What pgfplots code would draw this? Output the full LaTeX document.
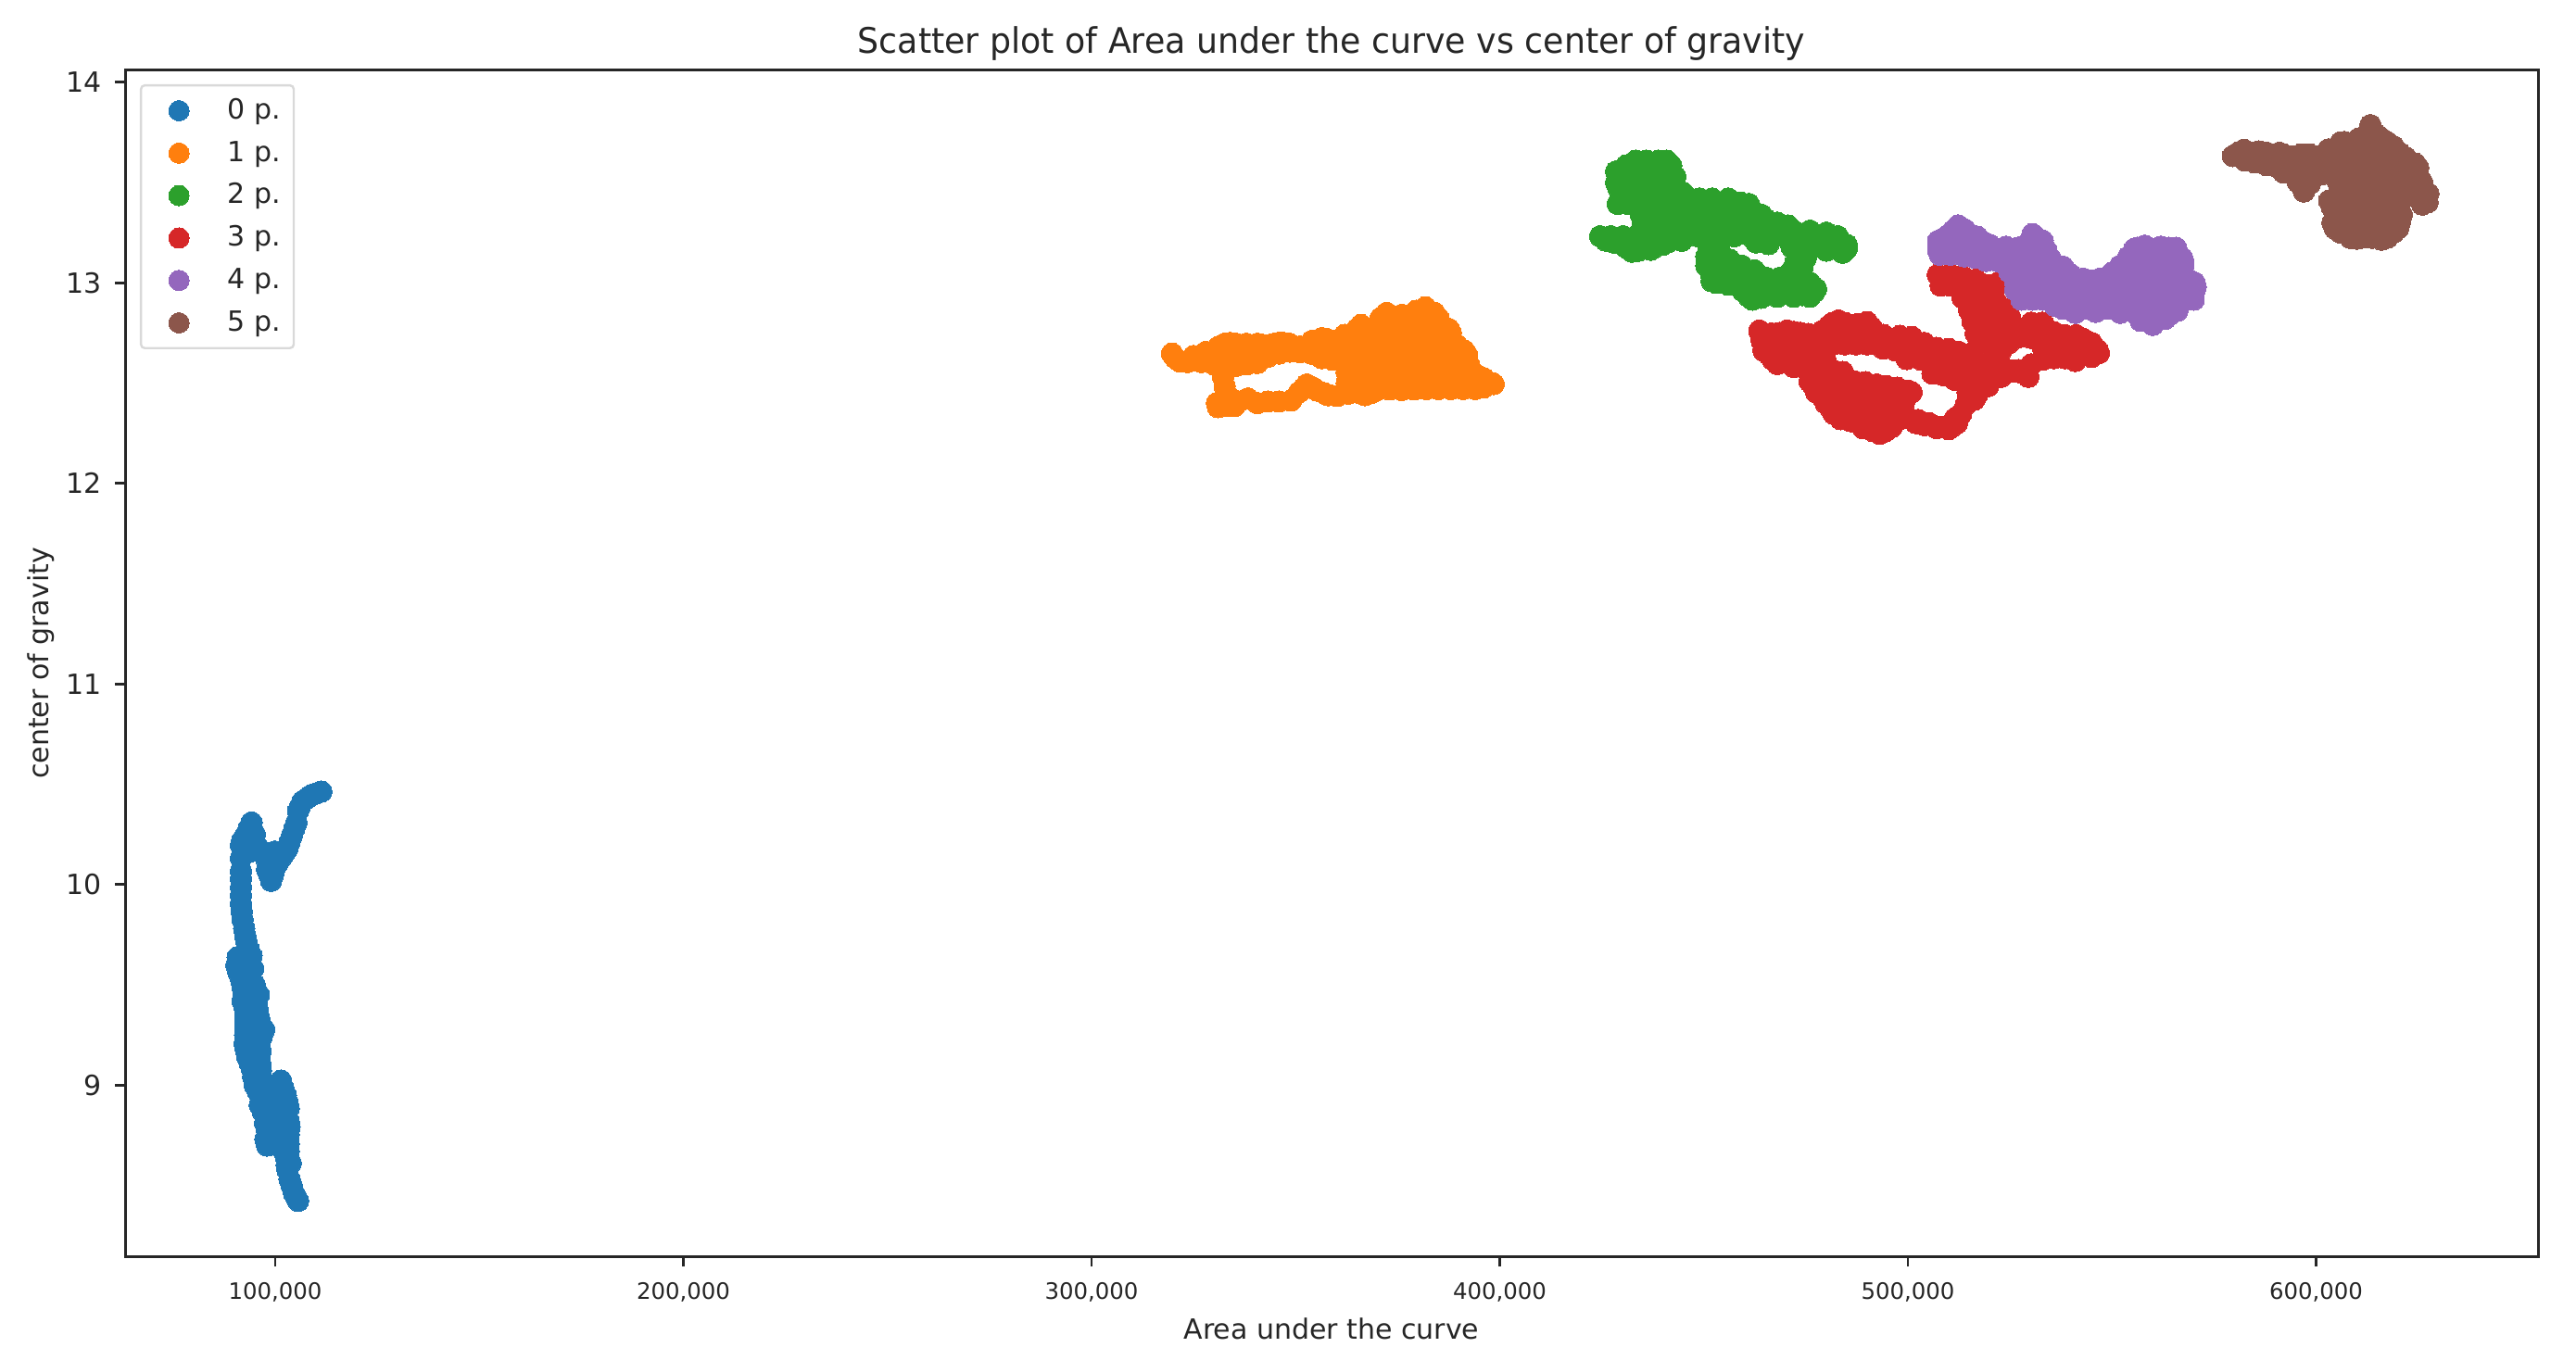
\documentclass[border=0pt]{standalone}
\usepackage{fontspec}
\setmainfont{DejaVu Sans}
\usepackage{pgfplots}
\pgfplotsset{compat=1.18}
\definecolor{c0}{HTML}{1F77B4}
\definecolor{c1}{HTML}{FF7F0E}
\definecolor{c2}{HTML}{2CA02C}
\definecolor{c3}{HTML}{D62728}
\definecolor{c4}{HTML}{9467BD}
\definecolor{c5}{HTML}{8C564B}
\definecolor{ink}{HTML}{262626}
\pgfplotsset{dot/.style={only marks,mark=*,mark size=2.9pt,color=#1,mark options={draw=#1,fill=#1,line width=0pt}}}
\begin{document}
\begin{tikzpicture}
\useasboundingbox (-33.75pt,-27.75pt) rectangle (661.25pt,339pt);
\begin{axis}[
  at={(0pt,0pt)},anchor=south west,
  scale only axis,width=651pt,height=320pt,
  xmin=63220,xmax=654370,ymin=8.146,ymax=14.059,
  axis line style={ink,line width=0.75pt},
  tick style={ink,line width=0.7pt},
  major tick length=2.75pt,
  tick align=outside,xtick pos=lower,ytick pos=left,
  xtick={100000,200000,300000,400000,500000,600000},
  ytick={9,10,11,12,13,14},
  scaled x ticks=false,
  /pgf/number format/assume math mode=true,
  xticklabel style={/pgf/number format/.cd,fixed,1000 sep={,},/tikz/.cd,font=\fontsize{6.1}{7}\selectfont,text=ink,anchor=base,yshift=-8.9pt},
  yticklabel style={/pgf/number format/.cd,fixed,precision=0,/tikz/.cd,font=\fontsize{7.5}{9}\selectfont,text=ink},
  title={\scalebox{0.956}[1]{Scatter plot of Area under the curve vs center of gravity}},
  every axis title/.style={at={(axis description cs:0.5,1)},anchor=base,yshift=4.5pt,font=\fontsize{9.5}{11}\selectfont,text=ink},
  xlabel={Area under the curve},
  every axis x label/.style={at={(axis description cs:0.5,0)},anchor=base,yshift=-22.25pt,font=\fontsize{7.5}{9}\selectfont,text=ink},
  ylabel={center of gravity},
  every axis y label/.style={at={(axis description cs:0,0.5)},rotate=90,anchor=base,yshift=20.5pt,font=\fontsize{7.5}{9}\selectfont,text=ink},
  legend cell align=left,
  legend image code/.code={\path[draw=none,fill=none] (-8.8pt,0pt) -- (11.2pt,0pt);\path[draw=none,fill=none,#1,mark size=2.75pt] plot coordinates {(0pt,0pt)};},
  legend style={at={(axis description cs:0.00614,0.9883)},anchor=north west,draw=black!15,line width=0.6pt,rounded corners=1pt,font=\fontsize{7.5}{9}\selectfont,text=ink,inner xsep=1.45pt,inner ysep=1.1pt,row sep=0pt,nodes={text height=7.95pt,text depth=3.5pt,inner ysep=0pt}},
]
\addplot[dot=c0] coordinates {
(111300,10.463)(109000,10.447)(106700,10.415)(105600,10.366)(105200,10.309)(104100,10.245)(103000,10.180)(101400,10.131)(99900,10.083)(99000,10.018)(98000,10.075)(97700,10.131)(99900,10.164)(96900,10.164)(95400,10.196)(94200,10.309)(92700,10.245)(94600,10.245)(91600,10.196)(93900,10.164)(91600,10.131)(91600,10.066)(91600,9.985)(91600,9.905)(92000,9.824)(92700,9.742)(93500,9.678)(90800,9.637)(90500,9.597)(94200,9.645)(92000,9.548)(94600,9.580)(92200,9.467)(95000,9.499)(95400,9.419)(92000,9.419)(92700,9.354)(95800,9.354)(92700,9.289)(97300,9.276)(95400,9.289)(92500,9.208)(96100,9.208)(93100,9.143)(96100,9.135)(94300,9.078)(96500,9.070)(95000,8.997)(96500,9.005)(101400,9.022)(102600,8.949)(96500,8.933)(103300,8.884)(96900,8.868)(99900,8.852)(103300,8.819)(98000,8.770)(101100,8.770)(103300,8.754)(98000,8.698)(100700,8.698)(103300,8.706)(102600,8.641)(103000,8.576)(104100,8.495)(105200,8.438)(105600,8.422)
(91600,10.03)(91600,9.945)(91800,9.865)(92400,9.78)(93000,9.71)(103500,8.53)(103800,8.61)(99000,8.96)(100500,9.0)(100000,8.92)(97800,8.84)(101000,8.82)
(91200,9.60)(91700,9.52)(92000,9.49)(92300,9.44)(92500,9.385)(92700,9.32)(92600,9.25)(92800,9.175)(93700,9.11)(94600,9.04)(95800,8.965)(96200,8.90)(97500,8.81)(97600,8.73)(96000,9.45)(95200,9.46)(95600,9.385)(96200,9.32)(96700,9.24)(96400,9.17)(96400,9.10)(101000,8.98)(102000,8.985)(103000,8.915)(103500,8.79)(103300,8.67)(102800,8.60)(104600,8.46)(92500,9.66)(91500,9.62)(91000,9.56)(93000,9.60)(93500,9.53)(93500,9.46)(94000,9.40)(94000,9.32)(94000,9.24)(95000,9.15)(95500,9.03)(98500,8.90)(100000,8.78)(101500,8.72)
(110200,10.455)(107800,10.43)(106100,10.39)(104700,10.28)(103500,10.21)(102200,10.155)(100600,10.105)(99500,10.05)(98500,10.05)(98800,10.14)(101000,10.15)(95000,10.25)(93500,10.28)(91900,10.22)
};
\addlegendentry{0 p.}
\addplot[dot=c1] coordinates {
(319700,12.647)(321600,12.608)(323500,12.605)(326900,12.639)(326900,12.605)(330000,12.647)(330000,12.593)(332600,12.696)(332600,12.647)(332600,12.585)(335300,12.696)(335300,12.639)(335300,12.585)(337900,12.696)(337900,12.639)(337900,12.593)(340600,12.696)(340600,12.639)(340600,12.600)(343200,12.673)(343200,12.631)(345900,12.701)(345900,12.647)(348500,12.696)(348500,12.657)(351100,12.682)(351100,12.654)(353800,12.701)(353800,12.647)(356400,12.724)(356400,12.670)(356400,12.624)(359100,12.711)(359100,12.662)(359100,12.616)
(332200,12.531)(332600,12.485)(330700,12.400)(333400,12.385)(336000,12.408)(338300,12.423)(340600,12.400)(343200,12.408)(345900,12.408)(348900,12.413)(350800,12.454)(352700,12.493)(355300,12.462)(358000,12.439)(360200,12.436)(362900,12.447)(365500,12.451)(368600,12.451)(369700,12.477)(333700,12.431)
(381800,12.878)
(370800,12.824)(373800,12.824)(376900,12.824)(379900,12.824)(382900,12.824)(385000,12.824)
(365000,12.770)(367800,12.770)(370800,12.770)(373800,12.770)(376900,12.770)(379900,12.770)(382900,12.770)(386000,12.770)(387500,12.770)
(362500,12.716)(364800,12.716)(367800,12.716)(370800,12.716)(373800,12.716)(376900,12.716)(379900,12.716)(382900,12.716)(386000,12.716)(388200,12.716)
(362500,12.662)(364800,12.662)(367800,12.662)(370800,12.662)(373800,12.662)(376900,12.662)(379900,12.662)(382900,12.662)(386000,12.662)(388200,12.662)(391300,12.662)
(362500,12.608)(364800,12.608)(367800,12.608)(370800,12.608)(373800,12.608)(376900,12.608)(379900,12.608)(382900,12.608)(386000,12.608)(388200,12.608)(391000,12.608)
(362500,12.554)(364800,12.554)(367800,12.554)(370800,12.554)(373800,12.554)(376900,12.554)(379900,12.554)(382900,12.554)(386000,12.554)(389000,12.554)(393000,12.554)
(362500,12.500)(364800,12.500)(367800,12.500)(370800,12.500)(373800,12.500)(376900,12.500)(379900,12.500)(382900,12.500)(386000,12.500)(389000,12.500)(392000,12.500)(395000,12.500)(398100,12.500)
(366000,12.79)(362000,12.74)(357500,12.72)(354000,12.71)(388000,12.75)(389500,12.69)(392000,12.64)(392500,12.59)(394000,12.545)(396000,12.525)(398500,12.495)(394000,12.47)(388000,12.47)(382000,12.47)(376000,12.465)(370000,12.465)
(373000,12.468)(379000,12.468)(385000,12.47)(391000,12.47)(396000,12.478)
(328000,12.655)(331000,12.68)(334000,12.70)(342000,12.69)(344500,12.695)(347000,12.70)(331000,12.38)(335000,12.385)(352000,12.475)(354000,12.48)(357000,12.45)(367000,12.44)(320500,12.625)(325000,12.635)(372300,12.85)(376000,12.84)(379500,12.86)(384000,12.85)
};
\addlegendentry{1 p.}
\addplot[dot=c2] coordinates {
(433300,13.609)(435900,13.609)(438900,13.609)(440900,13.609)
(428500,13.555)(431500,13.555)(434600,13.555)(437600,13.555)(440700,13.555)(441800,13.555)
(428500,13.501)(431500,13.501)(434600,13.501)(437600,13.501)(440700,13.501)(442000,13.501)
(429800,13.447)(432800,13.447)(435900,13.447)(438900,13.447)(442000,13.447)(445000,13.447)
(428900,13.393)(431500,13.393)(434600,13.393)(437600,13.393)(440700,13.393)(443700,13.393)(446700,13.393)(449800,13.393)(452800,13.393)(455900,13.393)(458900,13.393)(461000,13.393)
(434600,13.339)(437600,13.339)(440700,13.339)(443700,13.339)(446700,13.339)(449800,13.339)(452800,13.339)(455900,13.339)(458900,13.339)(461900,13.339)(464100,13.339)
(435000,13.286)(438000,13.286)(441000,13.286)(444000,13.286)(447000,13.286)(450000,13.286)(453000,13.286)(456000,13.286)(459000,13.286)(462000,13.286)(465000,13.286)(468000,13.286)(470600,13.286)
(424600,13.232)(427200,13.232)(430200,13.232)(433300,13.232)(436300,13.232)(439300,13.232)(442400,13.232)(445400,13.232)(448500,13.232)(451500,13.232)(454500,13.232)(457500,13.232)(461500,13.232)(464500,13.232)(467600,13.232)(470600,13.232)(473700,13.232)(476700,13.232)(479700,13.232)(482800,13.232)
(432400,13.155)(438000,13.178)(435000,13.185)(429800,13.193)(441100,13.201)(444600,13.209)
(451100,13.178)(453700,13.178)(462800,13.201)(465800,13.193)(471500,13.178)(473200,13.178)(476300,13.178)(479300,13.185)(482300,13.178)(485000,13.170)
(475000,13.124)(472400,13.101)(474100,13.070)(471500,13.062)
(450600,13.132)(450600,13.085)(451900,13.031)(451900,13.008)(455000,13.016)(457600,13.024)(460200,12.978)(461900,12.916)(464500,12.947)(467600,12.947)(470600,12.947)(474100,12.939)(477100,12.955)(474100,12.993)(470600,13.001)(455900,13.070)(453200,13.101)(456300,13.116)
(459300,13.085)(462400,13.062)(465400,13.024)(468500,13.024)(460200,13.031)(463200,13.008)(466300,12.985)(468900,12.985)
(429000,13.528)(429000,13.474)(430000,13.42)(431000,13.585)(442000,13.585)(443000,13.53)(443500,13.47)(446000,13.42)(449000,13.42)(452000,13.42)(456000,13.42)(459000,13.40)(462000,13.36)(465000,13.32)(468000,13.30)(472000,13.26)(476000,13.26)(480000,13.25)(483000,13.22)(485000,13.19)(484000,13.15)(480000,13.16)
(426000,13.21)(428000,13.20)(431000,13.175)(434000,13.16)(437000,13.165)(440000,13.19)(452000,13.06)(450700,13.11)(453000,13.0)(456000,12.99)(458000,13.0)(459500,12.96)(461000,12.93)(464000,12.925)(468000,12.93)(472000,12.93)(476000,12.93)(477500,12.97)(476000,13.0)
};
\addlegendentry{2 p.}
\addplot[dot=c3] coordinates {
(463600,12.762)(466500,12.747)(470400,12.762)(473600,12.750)(477500,12.739)(480600,12.785)(483000,12.812)(486100,12.790)(490000,12.804)(492300,12.747)
(464200,12.708)(466900,12.708)(469600,12.708)(472400,12.708)(475100,12.708)(477900,12.708)(480600,12.708)(483300,12.708)(486100,12.708)(488800,12.708)(491500,12.708)(494300,12.708)(497000,12.708)(500900,12.711)
(483000,12.750)(486100,12.750)(490000,12.750)(495000,12.720)
(464600,12.662)(467300,12.662)(470000,12.662)(472800,12.662)(475500,12.662)(478300,12.662)(478600,12.660)
(493900,12.672)(497000,12.662)(499700,12.655)(502500,12.625)(505200,12.662)(508000,12.647)(511000,12.647)(513800,12.620)
(481800,12.693)(484500,12.693)(487200,12.693)(490000,12.693)(492700,12.693)
(466900,12.616)(469600,12.616)(472400,12.616)(475100,12.616)(477900,12.616)(479800,12.616)(499700,12.620)
(475500,12.562)(478300,12.562)(480600,12.562)(481800,12.562)(484100,12.555)
(475900,12.508)(478600,12.508)(481400,12.508)(484100,12.508)(486900,12.508)(489600,12.504)(492300,12.493)(494700,12.485)(497400,12.477)(500100,12.462)
(477500,12.454)(480200,12.454)(483000,12.454)(485700,12.454)(488400,12.454)(491100,12.454)(493900,12.454)(496600,12.454)(499000,12.454)(500900,12.454)
(479800,12.400)(482600,12.400)(485300,12.400)(488000,12.400)(490800,12.400)(493500,12.400)(496200,12.400)(499000,12.400)
(481800,12.347)(484500,12.347)(487200,12.347)(490000,12.347)(492700,12.347)(495400,12.347)(498200,12.347)
(488400,12.300)(491100,12.300)(493900,12.300)(496600,12.300)(493100,12.247)
(499700,12.331)(502500,12.316)(505200,12.300)(508000,12.282)(511000,12.285)(511500,12.324)(514200,12.393)(516200,12.416)(513000,12.347)(514600,12.454)
(503300,12.678)(503300,12.616)(506000,12.647)(506000,12.593)(506000,12.547)(508700,12.647)(508700,12.593)(508700,12.539)(511500,12.624)(511500,12.570)(511500,12.516)(514200,12.608)(514200,12.555)(514200,12.501)(516900,12.601)(516900,12.547)(516900,12.493)(516900,12.439)(519700,12.593)(519700,12.539)(519700,12.485)(522000,12.647)(522000,12.593)(522000,12.539)
(507300,13.040)(510300,13.043)(513400,13.032)(516600,13.016)(519300,12.978)(510300,12.986)(513400,12.978)(516600,12.963)(508000,12.986)(513400,12.924)(516600,12.909)(519700,12.916)(515000,12.862)(518100,12.855)(521200,12.855)(515800,12.809)(518900,12.801)(522000,12.801)(524800,12.801)(516600,12.747)(519300,12.747)(522000,12.747)(524800,12.747)(527500,12.747)(530200,12.801)(533000,12.801)(533000,12.747)(535700,12.755)(538400,12.739)(541200,12.739)(530200,12.739)
(521000,12.96)(521500,12.91)(524000,12.87)(525000,12.83)(519000,12.99)(522000,13.0)(527500,12.73)(530200,12.725)(524800,12.70)(533000,12.70)(524800,12.565)(527100,12.565)(522500,12.60)(522800,12.66)
(517300,12.693)(519700,12.693)(522000,12.693)
(533000,12.678)(535700,12.678)(538400,12.678)(541200,12.678)(543900,12.693)(546400,12.667)
(533000,12.616)(535700,12.624)(538400,12.624)(541200,12.631)(543900,12.647)
(524800,12.555)(527100,12.555)(529500,12.531)(530200,12.593)(522800,12.531)
(464000,12.735)(465000,12.685)(466000,12.64)(468000,12.595)(472000,12.58)(476000,12.535)(477000,12.48)(479000,12.43)(481000,12.375)(483500,12.32)(486000,12.31)(489000,12.275)(491500,12.26)(494500,12.26)(496000,12.28)(498000,12.32)(502000,12.30)(504000,12.29)(507000,12.275)(510000,12.27)(512000,12.30)
(468500,12.75)(472000,12.755)(475500,12.745)(479000,12.76)(481500,12.80)(484500,12.80)(488000,12.795)(491000,12.78)(494000,12.74)(498000,12.735)(501000,12.73)(504000,12.70)(507000,12.675)(510000,12.67)(512500,12.655)
(543000,12.72)(545000,12.70)(546800,12.65)(545000,12.63)(541000,12.61)
};
\addlegendentry{3 p.}
\addplot[dot=c4] coordinates {
(512300,13.286)
(510000,13.240)(512700,13.240)(515300,13.240)
(507400,13.209)(510000,13.209)(512700,13.209)(515300,13.209)(518000,13.209)
(507400,13.163)(510000,13.163)(512700,13.163)(515300,13.163)(518000,13.163)(520600,13.163)(523300,13.163)(525900,13.163)(528600,13.163)(531200,13.163)(533900,13.163)
(530500,13.243)(530500,13.194)(532800,13.202)
(507800,13.140)(510400,13.140)(513800,13.132)(516500,13.124)
(519100,13.109)(521800,13.109)(524400,13.109)(527000,13.109)(529700,13.109)(532400,13.109)(534800,13.109)
(524800,13.055)(527400,13.055)(530100,13.055)(532700,13.055)(535400,13.055)(538000,13.055)
(526300,13.001)(528900,13.001)(531600,13.001)(534300,13.001)(536900,13.001)(539500,13.001)(542200,13.001)(544800,13.001)(547500,13.001)(550100,13.001)(552800,13.001)(555400,13.001)(558100,13.001)(560700,13.001)(563400,13.001)(566000,13.001)(568700,13.001)(570200,13.001)
(526300,12.963)(528900,12.963)(531600,12.963)(534300,12.963)(536900,12.963)(539500,12.963)(542200,12.963)(544800,12.963)(547500,12.963)(550100,12.963)(552800,12.963)(555400,12.963)(558100,12.963)(560700,12.963)(563400,12.963)(566000,12.963)(568700,12.963)(570200,12.963)
(527800,12.916)(530500,12.916)(533100,12.916)(535800,12.916)(538400,12.916)(541100,12.916)(543700,12.916)(546400,12.916)(549000,12.916)(551700,12.916)(554300,12.916)(557000,12.916)(559600,12.916)(562300,12.916)(564900,12.916)(567600,12.916)(570000,12.916)
(538000,12.870)(540700,12.870)(543300,12.870)(546000,12.870)(548600,12.870)(551300,12.870)(553900,12.870)(556600,12.870)(559200,12.870)(561900,12.870)(565300,12.870)
(556200,12.840)(558800,12.840)(561500,12.840)(564100,12.840)
(560000,12.793)
(556200,13.174)(558800,13.174)(561500,13.174)(563800,13.174)(565700,13.174)
(556600,13.124)(559200,13.124)(561900,13.124)(564500,13.124)(567200,13.124)
(551700,13.071)(554300,13.071)(556900,13.071)(559600,13.071)(562200,13.071)(564900,13.071)(567300,13.071)
(545600,13.012)(548600,13.017)(551300,13.017)(553900,13.017)(556600,13.017)(559200,13.017)(561900,13.017)(564500,13.017)(567200,13.017)(568700,13.017)
(509000,13.225)(511000,13.26)(514000,13.265)(517000,13.23)(520000,13.19)(524000,13.18)(527000,13.175)(529000,13.19)(531000,13.235)(533000,13.21)(534000,13.15)(535000,13.12)(538000,13.08)(540000,13.04)(543000,13.02)(547000,13.02)(550000,13.05)(552000,13.085)(555000,13.085)(554000,13.13)(555500,13.17)(558000,13.185)(562000,13.18)(565000,13.17)(567500,13.10)(570500,12.98)(570000,12.93)(566000,12.86)(563000,12.82)(560000,12.79)(557000,12.81)(552000,12.85)(546000,12.855)(541000,12.85)(536000,12.885)
};
\addlegendentry{4 p.}
\addplot[dot=c5] coordinates {
(579600,13.632)(582300,13.663)(584900,13.648)(587900,13.648)(591000,13.648)(582600,13.609)(585300,13.602)(587900,13.586)(591000,13.571)(591000,13.609)(593600,13.617)(596300,13.640)(598500,13.640)(596300,13.586)(594000,13.555)(597000,13.455)(595500,13.502)(598500,13.494)(598500,13.540)(601200,13.540)(601200,13.594)(603800,13.609)
(613300,13.786)(612500,13.733)(615200,13.733)
(606900,13.702)(609500,13.702)(612100,13.702)(614800,13.702)(617400,13.702)
(605000,13.648)(607600,13.648)(610300,13.648)(612900,13.648)(615600,13.648)(618200,13.648)(620500,13.648)
(603800,13.594)(606500,13.594)(609100,13.594)(611800,13.594)(614400,13.594)(617100,13.594)(619700,13.594)(622400,13.594)(624300,13.594)
(603800,13.540)(606500,13.540)(609100,13.540)(611800,13.540)(614400,13.540)(617100,13.540)(619700,13.540)(622400,13.540)(624300,13.540)(625000,13.540)
(605600,13.486)(608300,13.486)(610900,13.486)(613600,13.486)(616200,13.486)(618900,13.486)(621500,13.486)(624200,13.486)(625000,13.486)
(605300,13.432)(608000,13.432)(610600,13.432)(613300,13.432)(615900,13.432)(618600,13.432)(621200,13.432)(623900,13.432)(626500,13.432)(627300,13.432)
(625800,13.401)(627300,13.401)
(603800,13.378)(606500,13.378)(609100,13.378)(611800,13.378)(614400,13.378)(617100,13.378)(619400,13.378)
(604600,13.324)(607200,13.324)(609900,13.324)(612500,13.324)(615200,13.324)(618600,13.324)
(604600,13.271)(607200,13.271)(609900,13.271)(612500,13.271)(615200,13.271)(617800,13.271)(620100,13.271)
(608400,13.224)(611000,13.224)(613700,13.224)(616300,13.224)(617400,13.224)
(581000,13.65)(586000,13.655)(592000,13.64)(594000,13.63)(600000,13.63)(603000,13.665)(606000,13.70)(610500,13.72)(613000,13.76)(616000,13.72)(619000,13.68)(622000,13.625)(625000,13.575)(626000,13.50)(627500,13.445)(626000,13.39)(621000,13.34)(620500,13.30)(619000,13.25)(616000,13.215)(610000,13.22)(606000,13.25)(604000,13.30)(603200,13.41)(592000,13.55)(585000,13.60)
};
\addlegendentry{5 p.}
\end{axis}
\end{tikzpicture}
\end{document}
